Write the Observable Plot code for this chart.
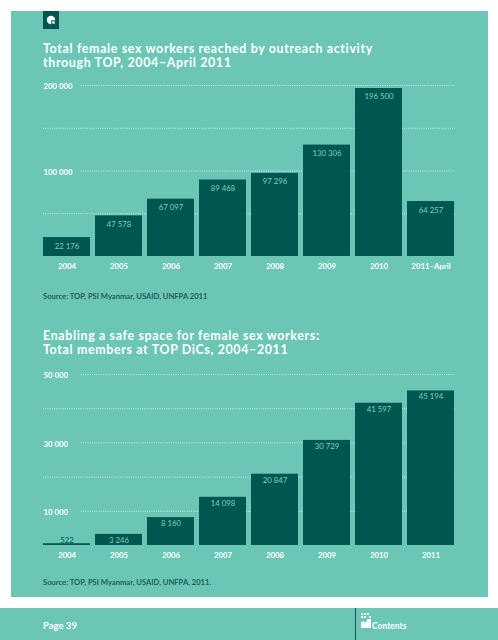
<!DOCTYPE html>
<html>
<head>
<meta charset="utf-8">
<script src="https://cdn.jsdelivr.net/npm/d3@7"></script>
<script src="https://cdn.jsdelivr.net/npm/@observablehq/plot@0.6"></script>
<style>
  html, body { margin: 0; padding: 0; background: #ffffff; }
  body { width: 498px; height: 640px; position: relative; overflow: hidden; font-family: Lato, "Open Sans", sans-serif; }
  .panel { position: absolute; left: 11px; top: 11px; width: 477px; height: 586px; background: #6cc6b6; }
  .footer { position: absolute; left: 0; top: 608px; width: 498px; height: 32px; background: #6cc6b6; }
  .divider { position: absolute; left: 355px; top: 608px; width: 1px; height: 32px; background: #0f5a50; }
  .title { position: absolute; left: 43px; color: #ffffff; font-weight: 700; font-size: 12.4px; line-height: 14px; height: 14px; letter-spacing: 0.66px; white-space: nowrap; }
  .source { position: absolute; left: 43px; color: #1c5d55; font-weight: 700; font-size: 7.6px; }
  .chart { position: absolute; left: 0; }
  .page { position: absolute; left: 43px; top: 620px; color: #fff; font-weight: 700; font-size: 9.5px; }
  .contents { position: absolute; left: 372px; top: 621px; color: #fff; font-weight: 700; font-size: 8.5px; }
</style>
</head>
<body>
<div class="panel"></div>
<svg style="position:absolute;left:43px;top:11px" width="16" height="18">
  <rect width="16" height="18" fill="#00574f"/>
  <circle cx="8" cy="9" r="4.2" fill="#fff"/>
  <rect x="8.3" y="9.3" width="4.5" height="4.5" fill="#00574f"/>
  <rect x="9.3" y="10.3" width="2.4" height="2.4" fill="#fff"/>
</svg>
<div class="title" style="top:41.7px">Total female sex workers reached by outreach activity</div>
<div class="title" style="top:55.7px">through TOP, 2004–April 2011</div>
<div id="chart1" class="chart" style="top:75px"></div>
<div class="source" style="top:291px">Source: TOP, PSI Myanmar, USAID, UNFPA 2011</div>
<div class="title" style="top:329.2px">Enabling a safe space for female sex workers:</div>
<div class="title" style="top:343.2px">Total members at TOP DiCs, 2004–2011</div>
<div id="chart2" class="chart" style="top:364px"></div>
<div class="source" style="top:577px">Source: TOP, PSI Myanmar, USAID, UNFPA, 2011.</div>
<div class="footer"></div>
<div class="divider"></div>
<div class="page">Page 39</div>
<svg style="position:absolute;left:361px;top:613px" width="10" height="16">
  <g fill="#fff">
    <rect x="0" y="0" width="2" height="2"/><rect x="3" y="0" width="2" height="2"/><rect x="6" y="0" width="2" height="2"/>
    <rect x="0" y="3" width="2" height="2"/><rect x="3" y="3" width="2" height="2"/><rect x="8" y="3" width="2" height="2"/>
    <path d="M0 9 L3 8 L3 10 L6 8 L6 6 L10 6 L10 15 L0 15 Z"/>
  </g>
</svg>
<div class="contents">Contents</div>
<script>
// ---- Data ----
const years1 = ["2004", "2005", "2006", "2007", "2008", "2009", "2010", "2011–April"];
const reached = [22176, 47578, 67097, 89468, 97296, 130306, 196500, 64257];
const ticks1Labeled = [100000, 200000];
const ticks1Minor = [50000, 150000];

const years2 = ["2004", "2005", "2006", "2007", "2008", "2009", "2010", "2011"];
const members = [522, 3246, 8160, 14098, 20847, 30729, 41597, 45194];
const ticks2Labeled = [10000, 30000, 50000];
const ticks2Minor = [20000, 40000];

// ---- Styles ----
const BAR = "#00574f";
const LIGHT = "#7fd0c1";
const GRID = "#e6f7f3";
const fmt = v => d3.format(",")(v).replace(/,/g, " ");

function chart(years, values, labeled, minor, ymax, labelDy) {
  const data = years.map((y, i) => ({year: y, value: values[i]}));
  return Plot.plot({
    width: 498,
    height: 201,
    marginLeft: 43,
    marginRight: 43,
    marginTop: 10,
    marginBottom: 20,
    style: {background: "transparent", color: "#ffffff", fontFamily: "Lato, 'Open Sans', sans-serif", fontSize: "7.8px", fontWeight: "bold", overflow: "visible"},
    x: {domain: years, paddingInner: 0.096, paddingOuter: 0, tickSize: 0, tickPadding: 7, label: null},
    y: {domain: [0, ymax], axis: null},
    marks: [
      Plot.ruleY(minor, {stroke: GRID, strokeOpacity: 0.85, strokeDasharray: "1 1.2", strokeWidth: 0.9}),
      Plot.ruleY(labeled, {stroke: GRID, strokeOpacity: 0.85, strokeDasharray: "1 1.2", strokeWidth: 0.9, insetLeft: 38}),
      Plot.text(labeled, {y: d => d, frameAnchor: "left", textAnchor: "start", text: d => fmt(d), fill: "#ffffff", dy: 1.2, fontWeight: "bold"}),
      Plot.barY(data, {x: "year", y: "value", fill: BAR}),
      Plot.text(data.filter(d => d.value >= 1000), {x: "year", y: "value", text: d => fmt(d.value), dy: labelDy, fill: LIGHT, fontWeight: "normal"}),
      Plot.text(data.filter(d => d.value < 1000), {x: "year", y: "value", text: d => fmt(d.value), dy: -3.5, fill: BAR, fontWeight: "normal"})
    ]
  });
}

document.getElementById("chart1").append(chart(years1, reached, ticks1Labeled, ticks1Minor, 200000, 8.5));
document.getElementById("chart2").append(chart(years2, members, ticks2Labeled, ticks2Minor, 50000, 6));
</script>
</body>
</html>
